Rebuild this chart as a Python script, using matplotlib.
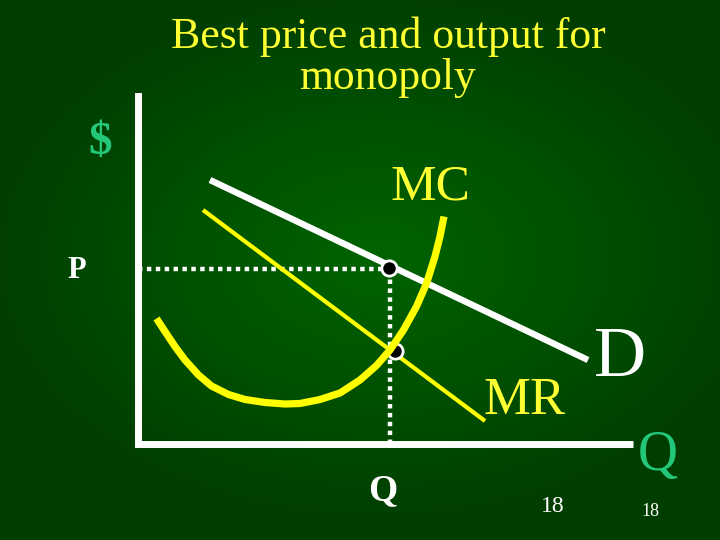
import numpy as np
import matplotlib
matplotlib.use('Agg')
import matplotlib.pyplot as plt

# chart coordinates: origin at the corner of the axes, 1 unit = 50 px
axis_q_max = 9.9
axis_p_max = 6.96

demand_q = [1.44, 9.0]
demand_p = [5.28, 1.68]

mr_q = [1.3, 6.94]
mr_p = [4.68, 0.46]

mc_q = [0.37, 0.54, 0.74, 0.94, 1.21, 1.47, 1.81, 2.14, 2.54, 2.94, 3.24,
        3.64, 4.04, 4.44, 4.77, 5.04, 5.31, 5.57, 5.77, 5.94, 6.04, 6.12]
mc_p = [2.51, 2.25, 1.95, 1.68, 1.38, 1.16, 0.99, 0.89, 0.83, 0.80, 0.81,
        0.89, 1.02, 1.28, 1.57, 1.88, 2.28, 2.75, 3.21, 3.75, 4.15, 4.55]

best_q = 5.04
best_p = 3.5
mr_mc_p = 1.86

yellow = '#ffff33'
green_txt = '#22c77a'
serif = ['Liberation Serif', 'DejaVu Serif']

fig = plt.figure(figsize=(7.2, 5.4), dpi=100)
ax = fig.add_axes([0, 0, 1, 1])
x0, x1 = -138 / 50, (720 - 138) / 50
y0, y1 = -(540 - 444) / 50, 444 / 50
ax.set_xlim(x0, x1)
ax.set_ylim(y0, y1)
ax.axis('off')

# radial green background, lighter in the middle
gx, gy = np.meshgrid(np.linspace(-1, 1, 360), np.linspace(-1, 1, 270))
r = np.clip(np.sqrt(((gx - 0.05) / 1.1) ** 2 + ((gy + 0.05) / 1.0) ** 2), 0, 1)
bg = np.zeros((270, 360, 3))
bg[..., 1] = (100 - 38 * r) / 255
ax.imshow(bg, extent=[x0, x1, y0, y1], aspect='auto', zorder=0)

# axes
ax.plot([0, axis_q_max], [0, 0], color='white', lw=5, solid_capstyle='butt', zorder=3)
ax.plot([0, 0], [0, axis_p_max], color='white', lw=5, solid_capstyle='projecting', zorder=3)

# dotted guides
ax.plot([0, best_q], [best_p, best_p], color='white', lw=3.2,
        linestyle=(0, (1, 1)), dash_capstyle='butt', zorder=2)
ax.plot([best_q, best_q], [0, best_p], color='white', lw=3.2,
        linestyle=(0, (1, 1)), dash_capstyle='butt', zorder=2)

# curves
ax.plot(demand_q, demand_p, color='white', lw=4.6, solid_capstyle='butt', zorder=3)
ax.plot(mr_q, mr_p, color='#ffff00', lw=3, solid_capstyle='butt', zorder=3)
ax.plot(mc_q, mc_p, color='#ffff00', lw=5.2, solid_capstyle='butt',
        solid_joinstyle='round', zorder=5)

ax.plot([best_q - 0.03], [best_p + 0.03], 'o', ms=11, mfc='black', mec='white', mew=2, zorder=4)
ax.plot([best_q + 0.09], [mr_mc_p], 'o', ms=11, mfc='black', mec='white', mew=2, zorder=4)

# text
ax.text(5.0, 7.74, 'Best price and output for\nmonopoly', color=yellow, family=serif,
        fontsize=31.5, ha='center', va='center', linespacing=1.04)
ax.text(-0.76, 6.02, '$', color=green_txt, family=serif, fontsize=34, fontweight='bold',
        ha='center', va='center')
ax.text(5.84, 5.14, 'MC', color=yellow, family=serif, fontsize=37, ha='center', va='center')
ax.text(7.74, 0.86, 'MR', color=yellow, family=serif, fontsize=38, ha='center', va='center')
ax.text(9.64, 1.7, 'D', color='white', family=serif, fontsize=52, ha='center', va='center')
ax.text(10.4, -0.24, 'Q', color=green_txt, family=serif, fontsize=40, ha='center', va='center')
ax.text(-1.22, 3.48, 'P', color='white', family=serif, fontsize=22, fontweight='bold',
        ha='center', va='center')
ax.text(4.9, -0.94, 'Q', color='white', family=serif, fontsize=27, fontweight='bold',
        ha='center', va='center')
ax.text(8.3, -1.24, '18', color='white', family=serif, fontsize=17, ha='center', va='center')
ax.text(10.24, -1.36, '18', color='white', family=serif, fontsize=13, ha='center', va='center')

fig.savefig('out.png', dpi=100)
